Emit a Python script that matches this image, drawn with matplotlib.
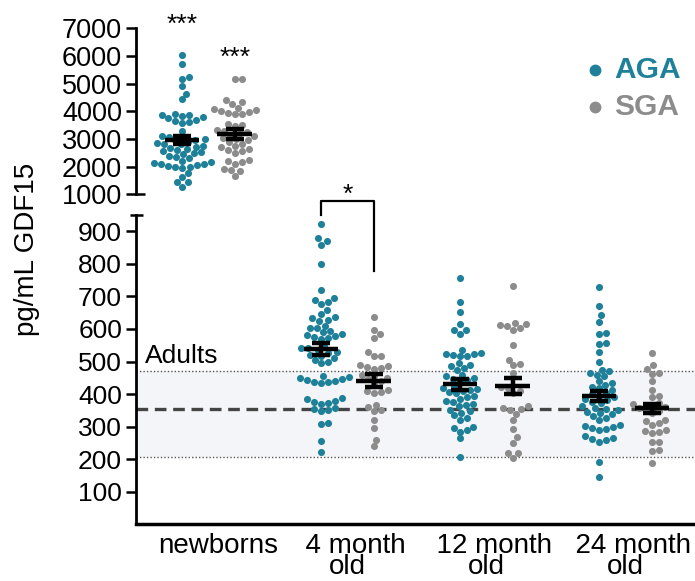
import numpy as np
import matplotlib
matplotlib.use("Agg")
import matplotlib.pyplot as plt
import matplotlib.transforms as mtransforms

plt.rcParams['font.family'] = ['Liberation Sans', 'DejaVu Sans']

# ---------------- data ----------------
groups = ["newborns", "  4 month\nold", "  12 month\nold", "  24 month\nold"]

newborn_aga = [6040, 5710, 5250, 5170, 4920, 4630, 4430,
               3900, 3880, 3850, 3820, 3780, 3740, 3700, 3650, 3600, 3560,
               3300,
               3120, 3080, 3050, 3000, 2980, 2950, 2900, 2870, 2830, 2800,
               2760, 2720, 2680, 2650, 2600, 2560, 2520, 2480, 2450, 2400,
               2350, 2300,
               2200, 2150, 2120, 2100, 2080, 2050, 2020, 2000, 1980, 1950,
               1760, 1640, 1450, 1430, 1280]
newborn_sga = [5180, 5180, 4400, 4340, 4250, 4130, 4080, 4050, 4000, 3980,
               3950, 3920, 3900,
               3540, 3500, 3470, 3330, 3300, 3250, 3200, 3150, 3100, 3050,
               3000, 2950, 2900,
               2800, 2750, 2700, 2650, 2600, 2550, 2500,
               2250, 2200, 2150, 2100, 1900, 1870, 1850, 1660]

m4_aga = [922, 878, 870, 859, 801, 719, 695, 690, 684, 678, 657, 647, 636,
          633, 629, 624, 610, 603, 602,
          593, 590, 585, 582, 578, 575, 572, 570,
          547, 543, 540, 535, 530, 525, 520, 516,
          511, 505, 500, 495,
          454, 452, 450, 447, 444, 441, 438, 436, 434,
          388, 385, 380, 376, 372, 370,
          357, 353, 350, 347,
          310, 308, 257, 221]
m4_sga = [637, 596, 585, 571, 529, 518, 516, 488, 485, 482, 480, 478,
          459, 455, 450, 445, 440, 434,
          413, 410, 406, 403,
          367, 360, 352, 347, 321, 295, 259, 239]

m12_aga = [757, 684, 653, 614, 598, 597, 586, 536, 526, 524, 522, 520, 518,
           516,
           495, 490, 485, 480, 475,
           459, 455, 450, 446, 442, 439,
           423, 420, 416, 413, 410, 406, 403,
           393, 390, 385, 380, 375, 370, 366, 362,
           352, 347, 342, 335, 328, 321,
           300, 295, 290, 285, 264, 206]
m12_sga = [733, 618, 615, 612, 608, 603, 598, 552, 506, 493, 488, 466,
           423, 418, 410, 403, 362, 358, 355, 352, 340, 321, 292, 268,
           250, 220, 220, 205]

m24_aga = [730, 671, 642, 622, 588, 586, 557, 555, 528, 499,
           475, 470, 465, 460, 454,
           439, 434, 428, 423, 418, 413,
           403, 399, 395, 390, 386, 382, 377, 372,
           362, 358, 354, 350, 346, 342, 338, 334, 328, 321,
           305, 302, 298, 295, 292, 290,
           270, 266, 262, 258, 254, 190, 146]
m24_sga = [526, 490, 478, 465, 463, 439, 413, 393, 392,
           372, 368, 364, 360, 356, 352, 347, 341,
           321, 316, 310, 305, 290, 287, 283, 280, 254, 252, 229, 225, 188]

mean_aga = [2960, 538, 430, 393]
sem_aga = [155, 19, 16, 15]
mean_sga = [3180, 441, 425, 356]
sem_sga = [180, 20, 25, 13]

adult_mean = 354
adult_low = 208
adult_high = 472

AGA_COLOR = "#1f8199"
SGA_COLOR = "#8c8c8c"

# ---------------- figure ----------------
W, H = 695, 581
fig = plt.figure(figsize=(W / 100, H / 100), dpi=100)

xl = (-0.52, 3.5)
ax_lo = fig.add_axes([136 / W, 1 - 524.3 / H, 1 - 136 / W, (524.3 - 215) / H])
ax_up = fig.add_axes([136 / W, 1 - 194.3 / H, 1 - 136 / W, (194.3 - 28.3) / H])

ax_lo.set_xlim(*xl)
ax_lo.set_ylim(0, 950)
ax_up.set_xlim(*xl)
ax_up.set_ylim(1000, 7000)

TICK_FS = 19

for ax in (ax_lo, ax_up):
    ax.spines['top'].set_visible(False)
    ax.spines['right'].set_visible(False)
    ax.spines['left'].set_linewidth(2)
    ax.tick_params(axis='y', length=7, width=1.8, labelsize=TICK_FS, pad=3)
    ax.patch.set_alpha(0)

ax_up.tick_params(axis='y', labelsize=19.5)
ax_up.spines['bottom'].set_visible(False)
ax_up.set_xticks([])
ax_up.set_yticks(np.arange(1000, 7001, 1000))

ax_lo.spines['bottom'].set_linewidth(2.5)
ax_lo.set_yticks(np.arange(100, 901, 100))
ax_lo.set_xticks(range(len(groups)))
ax_lo.set_xticklabels(groups, fontsize=20, linespacing=0.78)
ax_lo.tick_params(axis='x', length=0, pad=6)
# the "newborns" label sits a little right of its group centre
lab0 = ax_lo.get_xticklabels()[0]
lab0.set_transform(lab0.get_transform() +
                   mtransforms.ScaledTranslation(10 / 100, 0, fig.dpi_scale_trans))

# stubs at broken-axis ends
ax_up.plot([0, 0.016], [0, 0], transform=ax_up.transAxes, color='black',
           lw=1.8, clip_on=False, solid_capstyle='butt')
ax_lo.plot([-0.011, 0.012], [1, 1], transform=ax_lo.transAxes, color='black',
           lw=1.8, clip_on=False, solid_capstyle='butt')

# adults reference band
ax_lo.axhspan(adult_low, adult_high, color='#f4f5f8', zorder=0, lw=0)
ax_lo.axhline(adult_high, ls=(0, (1, 1.5)), color='#555555', lw=1, zorder=1)
ax_lo.axhline(adult_low, ls=(0, (1, 1.5)), color='#555555', lw=1, zorder=1)
ax_lo.axhline(adult_mean, ls=(0, (3.5, 2)), color='#444444', lw=2.4, zorder=1)
ax_lo.text(-0.455, 495, "Adults", fontsize=19, ha='left', va='baseline')


def swarm(ax, xc, values, d=6.8, step=1.0):
    vals = np.asarray(values, dtype=float)
    pts = ax.transData.transform(np.column_stack([np.full(len(vals), xc), vals]))
    ys = pts[:, 1]
    x0 = pts[0, 0]
    order = np.argsort(ys)
    placed = []
    offs = np.zeros(len(vals))
    cands = [0.0]
    for k in range(1, 80):
        cands += [k * step, -k * step]
    for i in order:
        y = ys[i]
        near = [(px, py) for px, py in placed if abs(py - y) < d]
        chosen = 0.0
        for c in cands:
            if all((c - px) ** 2 + (y - py) ** 2 >= d * d for px, py in near):
                chosen = c
                break
        offs[i] = chosen
        placed.append((chosen, y))
    back = ax.transData.inverted().transform(np.column_stack([x0 + offs, ys]))
    return back[:, 0], vals


OFF = 0.19
MS = 26
series = [(ax_up, newborn_aga, newborn_sga),
          (ax_lo, m4_aga, m4_sga),
          (ax_lo, m12_aga, m12_sga),
          (ax_lo, m24_aga, m24_sga)]

for gi, (ax, va_, vs_) in enumerate(series):
    for vals, sign, col, mu, se in ((va_, -1, AGA_COLOR, mean_aga[gi], sem_aga[gi]),
                                    (vs_, 1, SGA_COLOR, mean_sga[gi], sem_sga[gi])):
        xc = gi + sign * OFF
        xs, ys = swarm(ax, xc, vals)
        ax.scatter(xs, ys, s=MS, color=col, linewidths=0, zorder=3, clip_on=False)
        ax.plot([xc - 0.125, xc + 0.125], [mu, mu], color='black', lw=3.2, zorder=5,
                solid_capstyle='butt')
        ax.plot([xc, xc], [mu - se, mu + se], color='black', lw=3.2, zorder=5,
                solid_capstyle='butt')
        for yy in (mu - se, mu + se):
            ax.plot([xc - 0.065, xc + 0.065], [yy, yy], color='black', lw=3.2,
                    zorder=5, solid_capstyle='butt')

# significance marks
ax_up.text(0 - OFF, 6866, "***", fontsize=19, ha='center', va='baseline')
ax_up.text(0 + OFF, 5674, "***", fontsize=19, ha='center', va='baseline')
ax_lo.plot([1 - OFF, 1 - OFF, 1 + OFF, 1 + OFF], [950, 993, 993, 779],
           color='black', lw=1.6, clip_on=False)
ax_lo.text(1.0, 990, "*", fontsize=19, ha='center', va='baseline')

# legend
lx = 595 / W
for yy, lab, col in ((70, "AGA", AGA_COLOR), (107, "SGA", SGA_COLOR)):
    fig.add_artist(plt.Line2D([lx], [1 - yy / H], marker='o', markersize=7.5,
                              color=col, transform=fig.transFigure, ls='none'))
    fig.text(614 / W, 1 - yy / H, lab, color=col, fontsize=21.5,
             fontweight='bold', ha='left', va='center')

fig.text(27 / W, 1 - 249 / H, "pg/mL GDF15", rotation=90, fontsize=20,
         ha='center', va='center')

fig.savefig("out.png", dpi=100)
